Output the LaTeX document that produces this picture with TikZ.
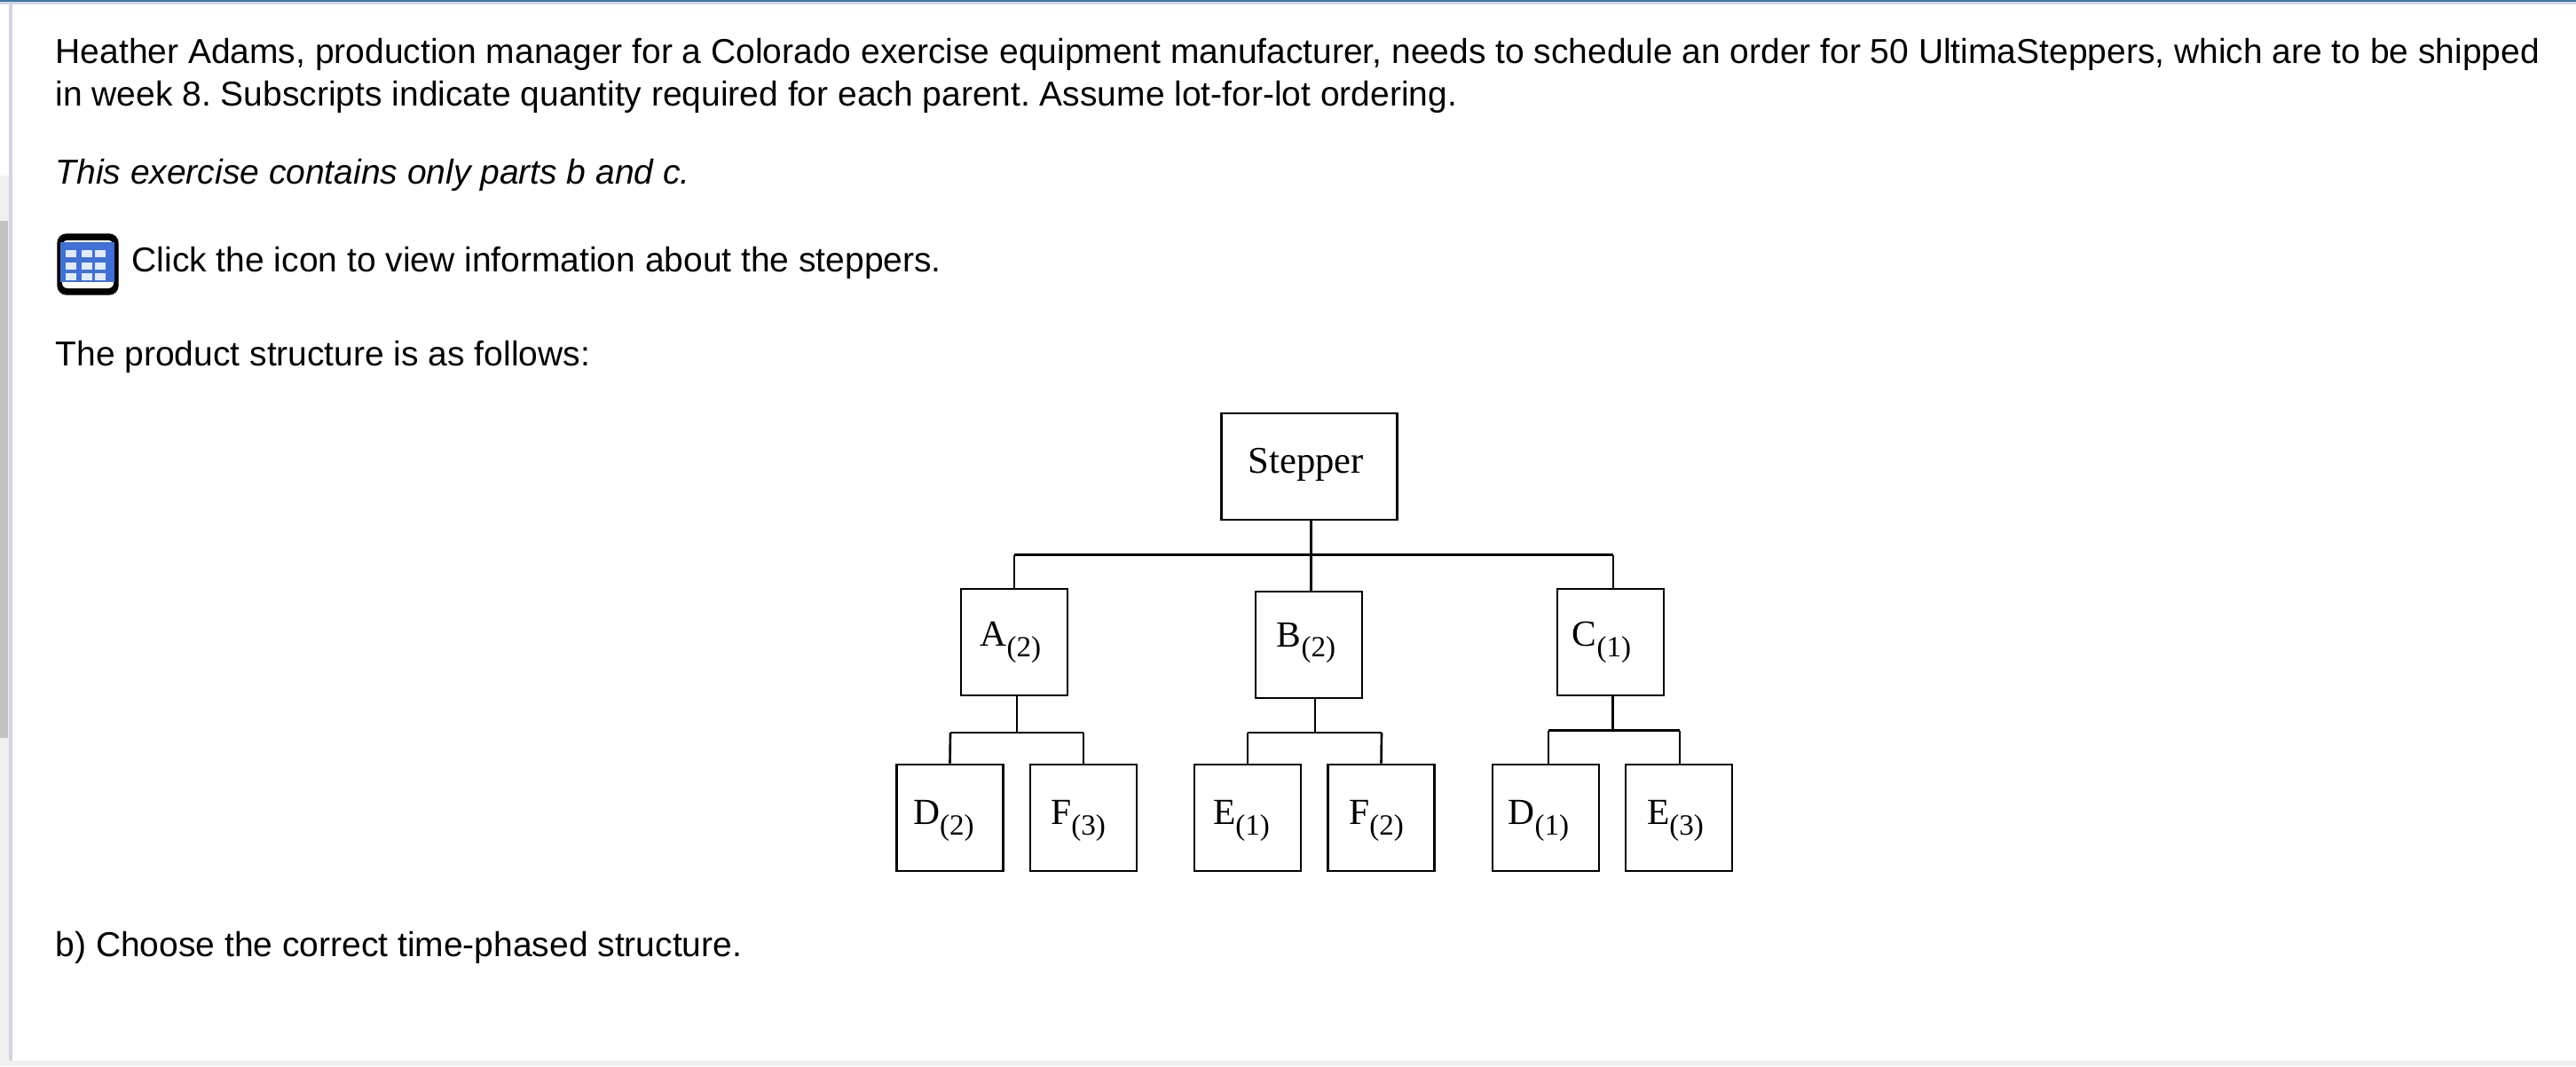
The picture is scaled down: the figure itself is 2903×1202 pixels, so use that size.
\documentclass[tikz,border=0pt]{standalone}
\usepackage{fontspec}
\setmainfont{Liberation Sans}
\newfontfamily\partfont{Liberation Serif}
\frenchspacing
\definecolor{barblue}{HTML}{3A78A6}
\definecolor{barlav}{HTML}{D2D4E2}
\definecolor{stripgray}{HTML}{F0F0F0}
\definecolor{scrollgray}{HTML}{C2C2C2}
\definecolor{iconblue}{HTML}{3F70D8}
\newcommand{\partlbl}[4][1.4]{\smash{\raisebox{-#1pt}{#2\raisebox{-3.3pt}{\fontsize{9.4}{11}\selectfont (#3)}\kern#4pt}}}
\begin{document}
\begin{tikzpicture}[x=0.01cm, y=-0.01cm,
    bodytxt/.style={anchor=base west, inner sep=0pt, font=\fontsize{11.085}{14}\selectfont},
    partbox/.style={draw, line width=0.8pt, inner sep=0pt, minimum width=1.2cm, minimum height=1.2cm, font=\partfont\fontsize{11.8}{14}\selectfont},
    linkline/.style={line width=0.75pt}]
    \useasboundingbox (0,0) rectangle (2903,1202);
    \fill[stripgray] (0,1196) rectangle (2903,1202);
    \fill[stripgray] (0,198) rectangle (10,1202);
    \fill[scrollgray] (0,249) rectangle (9,832);
    \fill[barlav] (10,4) rectangle (14,1196);
    \fill[barlav] (0,2) rectangle (2903,5);
    \fill[barblue] (0,0) rectangle (2903,2);

    \node[bodytxt] (line1) at (62,71) {Heather Adams, production manager for a Colorado exercise equipment manufacturer, needs to schedule an order for 50 UltimaSteppers, which are to be shipped};
    \node[bodytxt] (line2) at (62,119) {in week 8. Subscripts indicate quantity required for each parent. Assume lot-for-lot ordering.};
    \node[bodytxt, font=\fontsize{11.085}{14}\selectfont\itshape] (note) at (62,207) {This exercise contains only parts b and c.};
    \node[bodytxt] (click) at (148,306) {Click the icon to view information about the steppers.};
    \node[bodytxt] (follows) at (62,412) {The product structure is as follows:};
    \node[bodytxt] (choose) at (62,1078) {b) Choose the correct time-phased structure.};

    \filldraw[black, rounded corners=0.1cm] (65,264) rectangle (133,332);
    \fill[white, rounded corners=0.06cm] (70,271) rectangle (128,325);
    \fill[iconblue] (68,273) rectangle (129,318);
    \foreach \cx in {74,92,107} {
        \foreach \cy in {282,296,308} {
            \fill[white!85!iconblue] (\cx,\cy) rectangle +(12,8);
        }
    }

    \node[partbox, minimum width=1.98cm] (stepper) at (1475.5,526) {\smash{\raisebox{-2.1pt}{\fontsize{12.1}{14}\selectfont Stepper\kern2.1pt}}};
    \node[partbox] (A) at (1143,724) {\partlbl{A}{2}{2.3}};
    \node[partbox] (B) at (1475,727) {\partlbl[0.6]{B}{2}{1.7}};
    \node[partbox] (C) at (1815,724) {\partlbl{C}{1}{5.7}};
    \node[partbox] (D2) at (1070.5,922) {\partlbl[2.1]{D}{2}{4}};
    \node[partbox] (F3) at (1221,922) {\partlbl[2.1]{F}{3}{3.4}};
    \node[partbox] (E1) at (1406,922) {\partlbl[2.1]{E}{1}{4}};
    \node[partbox] (F2) at (1556.5,922) {\partlbl[2.1]{F}{2}{3.1}};
    \node[partbox] (D1) at (1742,922) {\partlbl[2.1]{D}{1}{4.6}};
    \node[partbox] (E3) at (1892,922) {\partlbl[2.1]{E}{3}{2.3}};

    \coordinate (topbus) at (1477.5,625.5);
    \coordinate (topleft) at (1143,625.5);
    \coordinate (topright) at (1818,625.5);
    \draw[linkline] (stepper.south -| topbus) -- (topbus);
    \draw[linkline] (topleft) -- (topright);
    \draw[linkline] (topleft) -- (A.north);
    \draw[linkline] (topbus) -- (B.north -| topbus);
    \draw[linkline] (topright) -- (C.north -| topright);

    \coordinate (abus) at (1146,826);
    \coordinate (aleft) at (1071,826);
    \coordinate (aright) at (1221,826);
    \draw[linkline] (A.south -| abus) -- (abus);
    \draw[linkline] (aleft) -- (aright);
    \draw[linkline] (aleft) -- (D2.north);
    \draw[linkline] (aright) -- (F3.north);

    \coordinate (bbus) at (1482,826);
    \coordinate (bleft) at (1406,826);
    \coordinate (bright) at (1557,826);
    \draw[linkline] (B.south -| bbus) -- (bbus);
    \draw[linkline] (bleft) -- (bright);
    \draw[linkline] (bleft) -- (E1.north);
    \draw[linkline] (bright) -- (F2.north);

    \coordinate (cbus) at (1817.5,823.5);
    \coordinate (cleft) at (1745,823.5);
    \coordinate (cright) at (1893,823.5);
    \draw[linkline] (C.south -| cbus) -- (cbus);
    \draw[linkline] (cleft) -- (cright);
    \draw[linkline] (cleft) -- (D1.north -| cleft);
    \draw[linkline] (cright) -- (E3.north -| cright);
\end{tikzpicture}
\end{document}
